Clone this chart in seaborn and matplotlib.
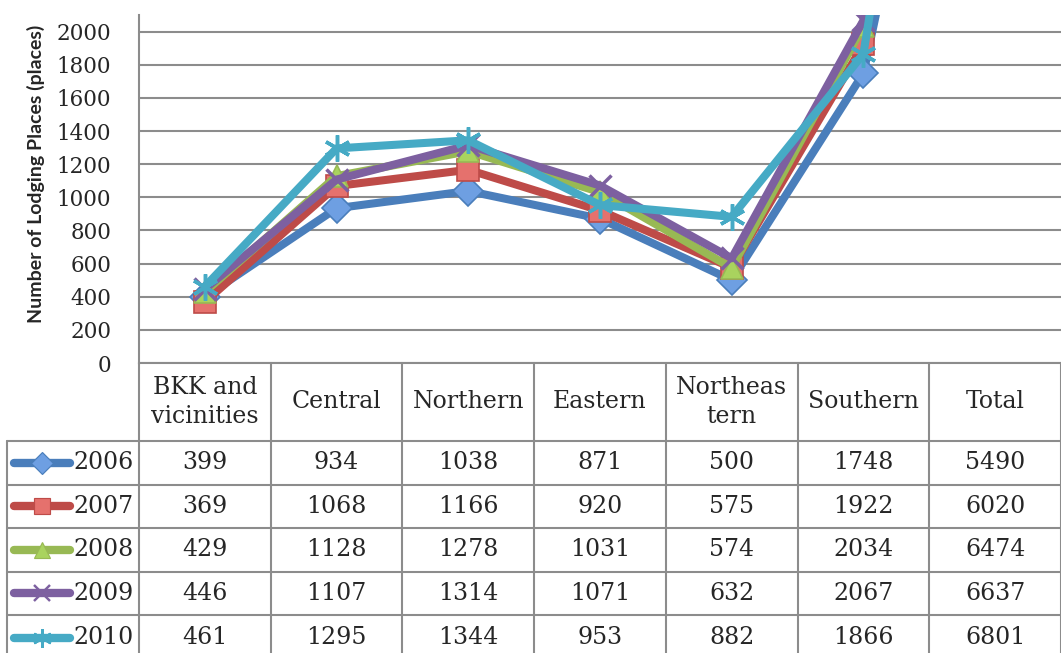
import numpy as np
import pandas as pd
import matplotlib
matplotlib.use("Agg")
import matplotlib.pyplot as plt
from matplotlib.lines import Line2D
from matplotlib import transforms
import seaborn as sns

# ---- data ----
regions = ["BKK and\nvicinities", "Central", "Northern", "Eastern",
           "Northeas\ntern", "Southern", "Total"]
years = ["2006", "2007", "2008", "2009", "2010"]
v2006 = [399, 934, 1038, 871, 500, 1748, 5490]
v2007 = [369, 1068, 1166, 920, 575, 1922, 6020]
v2008 = [429, 1128, 1278, 1031, 574, 2034, 6474]
v2009 = [446, 1107, 1314, 1071, 632, 2067, 6637]
v2010 = [461, 1295, 1344, 953, 882, 1866, 6801]
series = [v2006, v2007, v2008, v2009, v2010]
y_ticks = [0, 200, 400, 600, 800, 1000, 1200, 1400, 1600, 1800, 2000]

# ---- styling ----
line_colors = ["#4A7EBB", "#BE4B48", "#98B954", "#7D60A0", "#46AAC5"]
face_colors = ["#6E9FE2", "#E5716D", "#A9D35E", "#7D60A0", "#46AAC5"]
markers = ["D", "s", "^", "x", (6, 2, 0)]
msizes = [15, 16, 16, 16, 19]
mews = [1.2, 1.2, 1.2, 2.5, 2.5]

sns.set_style("white")
plt.rcParams["font.family"] = ["DejaVu Serif", "Liberation Serif"]

W, H = 1061, 653
fig = plt.figure(figsize=(W / 100, H / 100), dpi=100)
ax = fig.add_axes([139 / W, (H - 363) / H, (W - 139) / W, (363 - 15) / H])

df = pd.DataFrame({
    "pos": np.tile(np.arange(len(regions)), len(years)),
    "region": np.tile(regions, len(years)),
    "year": np.repeat(years, len(regions)),
    "value": np.concatenate(series),
})

for i, yr in enumerate(years):
    sub = df[df["year"] == yr]
    sns.lineplot(data=sub, x="pos", y="value", ax=ax, color=line_colors[i],
                 linewidth=5.8, marker=markers[i], markersize=msizes[i],
                 markerfacecolor=face_colors[i], markeredgecolor=line_colors[i],
                 markeredgewidth=mews[i], solid_joinstyle="round",
                 solid_capstyle="round", zorder=3 + i, legend=False)

grid_c = "#8C8C8C"
ax.set_xlim(-0.5, len(regions) - 0.5)
ax.set_ylim(0, 2100)
ax.set_yticks(y_ticks)
ax.set_yticklabels([str(t) for t in y_ticks], fontsize=15.5)
ax.set_xticks([])
ax.set_xlabel("")
ax.set_ylabel("Number of Lodging Places (places)", fontsize=14,
              fontweight="bold", family=["Lato", "DejaVu Sans"])
ax.yaxis.set_label_coords(-0.102, 0.543)
ax.tick_params(axis="y", length=0, pad=20)
ax.yaxis.grid(True, color=grid_c, linewidth=1.5)
ax.set_axisbelow(True)
for s in ["top", "right"]:
    ax.spines[s].set_visible(False)
for s in ["left", "bottom"]:
    ax.spines[s].set_color(grid_c)
    ax.spines[s].set_linewidth(1.5)

# ---- data table below the axis ----
def fy(py):
    return 1 - py / H

def fx(px):
    return px / W

blend = transforms.blended_transform_factory(ax.transData, fig.transFigure)
row_edges = [441, 484.5, 528, 571.5, 615, 660]
header_mid = (363 + 441) / 2

# vertical column separators follow the category positions
for k in range(len(regions) + 1):
    fig.add_artist(Line2D([k - 0.5, k - 0.5], [fy(363), fy(660)],
                          transform=blend, color=grid_c, lw=1.5))
fig.add_artist(Line2D([fx(7), fx(7)], [fy(441), fy(660)],
                      transform=fig.transFigure, color=grid_c, lw=1.5))
for ry in row_edges[:-1]:
    fig.add_artist(Line2D([fx(7), 1.0], [fy(ry), fy(ry)],
                          transform=fig.transFigure, color=grid_c, lw=1.5))

# header labels
for k, name in enumerate(regions):
    fig.text(k, fy(header_mid), name, transform=blend, ha="center",
             va="center", fontsize=17, linespacing=1.3)

# value rows with legend keys
for i, yr in enumerate(years):
    cy = fy((row_edges[i] + row_edges[i + 1]) / 2)
    fig.add_artist(Line2D([fx(14), fx(70)], [cy, cy], transform=fig.transFigure,
                          color=line_colors[i], lw=6, solid_capstyle="round"))
    fig.add_artist(Line2D([fx(42)], [cy], transform=fig.transFigure,
                          linestyle="none", marker=markers[i],
                          markersize=msizes[i] * 0.72,
                          markerfacecolor=face_colors[i],
                          markeredgecolor=line_colors[i],
                          markeredgewidth=mews[i] * 0.7))
    fig.text(fx(73), cy, yr, ha="left", va="center", fontsize=17)
    for k, v in enumerate(series[i]):
        fig.text(k, cy, str(v), transform=blend, ha="center", va="center",
                 fontsize=17)

fig.savefig("out.png", dpi=100)
